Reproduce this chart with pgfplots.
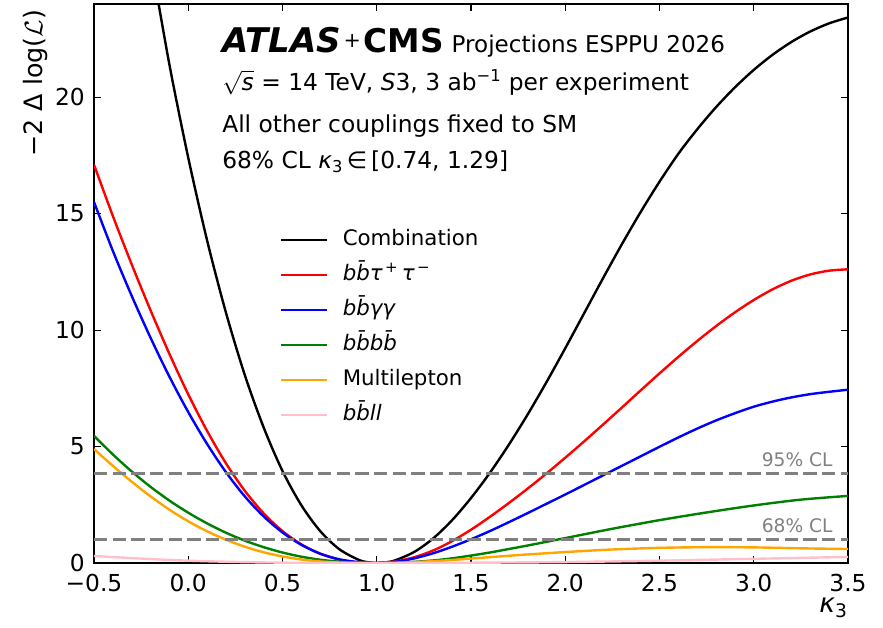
\RequirePackage{fix-cm}
\documentclass[border=0pt]{standalone}
\usepackage{fontspec}
\setmainfont{DejaVu Sans}
\usepackage{pgfplots}
\pgfplotsset{compat=1.18}

\newcommand\fs{\fontsize{17.5}{21}\selectfont}
\newcommand\lfs{\fontsize{16}{19.2}\selectfont}
\definecolor{mlorange}{HTML}{FFA500}
\definecolor{mlgreen}{HTML}{008000}
\definecolor{mlpink}{HTML}{FFC0CB}
\definecolor{clgray}{HTML}{808080}

\begin{document}
\begin{tikzpicture}
\begin{axis}[
  width=565.5pt, height=419.25pt, scale only axis,
  xmin=-0.5, xmax=3.5, ymin=0, ymax=24,
  xtick={-0.5,0,0.5,1,1.5,2,2.5,3,3.5},
  xticklabels={−0.5,0.0,0.5,1.0,1.5,2.0,2.5,3.0,3.5},
  ytick={0,5,10,15,20},
  yticklabels={0,5,10,15,20},
  tick align=inside,
  major tick length=5pt,
  every tick/.style={black, line width=0.8pt},
  axis line style={line width=0.9pt},
  xticklabel style={font=\fs, inner sep=0pt, yshift=-8.5pt},
  yticklabel style={font=\fs, inner sep=0pt, xshift=-6.75pt},
  xlabel={{\itshape κ}\textsubscript{3}},
  xlabel style={at={(rel axis cs:1,-0.062)}, anchor=north east, font=\fontsize{20}{24}\selectfont, inner sep=0pt},
  ylabel={−2 Δ log($\mathcal{L}$)},
  ylabel style={at={(rel axis cs:-0.061,0.99)}, anchor=south east, font=\fontsize{19}{23}\selectfont, inner sep=0pt},
  legend style={draw=none, fill=none, at={(rel axis cs:0.2467,0.597)}, anchor=north west,
    inner sep=0pt, outer sep=0pt, row sep=10.3pt, font=\lfs,
    nodes={inner sep=0pt, text height=12pt, text depth=4pt}},
  legend cell align=left,
  legend image code/.code={\draw[#1, line width=1.8pt] (0pt,0pt) -- (34pt,0pt);},
  /tikz/every odd column/.append style={column sep=11.25pt},
]
% Combination
\addplot[black, line width=1.8pt, smooth] coordinates {
 (-0.2,26.0) (-0.1,21.4) (0.0,17.4) (0.1,13.85) (0.2,10.75) (0.3,8.07) (0.4,5.82)
 (0.5,3.95) (0.6,2.48) (0.7,1.37) (0.8,0.6) (0.9,0.15) (0.95,0.035) (1.0,0.0)
 (1.05,0.03) (1.1,0.12) (1.2,0.48) (1.3,1.06) (1.4,1.84) (1.5,2.79) (1.6,3.87)
 (1.7,5.07) (1.8,6.37) (1.9,7.76) (2.0,9.22) (2.1,10.72) (2.2,12.22) (2.3,13.68)
 (2.4,15.07) (2.5,16.37) (2.6,17.57) (2.7,18.62) (2.8,19.57) (2.9,20.42)
 (3.0,21.17) (3.1,21.82) (3.2,22.37) (3.3,22.82) (3.4,23.17) (3.5,23.42)
};
\addlegendentry{Combination}
% bbtautau
\addplot[red, line width=1.8pt, smooth] coordinates {
 (-0.5,17.1) (-0.4,14.9) (-0.3,12.82) (-0.2,10.85) (-0.1,8.98) (0.0,7.24)
 (0.1,5.67) (0.2,4.28) (0.3,3.10) (0.4,2.13) (0.5,1.37) (0.6,0.80) (0.7,0.40)
 (0.8,0.15) (0.9,0.03) (1.0,0.0) (1.1,0.07) (1.2,0.25) (1.3,0.54) (1.4,0.94)
 (1.5,1.43) (1.6,1.98) (1.7,2.57) (1.8,3.19) (1.9,3.84) (2.0,4.52) (2.1,5.22)
 (2.2,5.94) (2.3,6.67) (2.4,7.41) (2.5,8.14) (2.6,8.85) (2.7,9.53) (2.8,10.17)
 (2.9,10.76) (3.0,11.29) (3.1,11.75) (3.2,12.12) (3.3,12.39) (3.4,12.55) (3.5,12.61)
};
\addlegendentry{{\itshape b\=bτ\textsuperscript{\,+}\,τ\textsuperscript{\,−}}}
% bbgammagamma
\addplot[blue, line width=1.8pt, smooth] coordinates {
 (-0.5,15.5) (-0.4,13.4) (-0.3,11.47) (-0.2,9.67) (-0.1,8.0) (0.0,6.48)
 (0.1,5.11) (0.2,3.90) (0.3,2.86) (0.4,2.0) (0.5,1.31) (0.6,0.78) (0.7,0.40)
 (0.8,0.16) (0.9,0.04) (1.0,0.0) (1.1,0.05) (1.2,0.2) (1.3,0.42) (1.4,0.70)
 (1.5,1.02) (1.6,1.37) (1.7,1.75) (1.8,2.14) (1.9,2.54) (2.0,2.94) (2.1,3.35)
 (2.2,3.76) (2.3,4.17) (2.4,4.58) (2.5,4.99) (2.6,5.39) (2.7,5.77) (2.8,6.12)
 (2.9,6.43) (3.0,6.71) (3.1,6.93) (3.2,7.11) (3.3,7.25) (3.4,7.35) (3.5,7.44)
};
\addlegendentry{{\itshape b\=bγγ}}
% bbbb
\addplot[mlgreen, line width=1.8pt, smooth] coordinates {
 (-0.5,5.46) (-0.4,4.66) (-0.3,3.93) (-0.2,3.27) (-0.1,2.68) (0.0,2.16)
 (0.1,1.70) (0.2,1.30) (0.3,0.96) (0.4,0.68) (0.5,0.45) (0.6,0.27) (0.7,0.14)
 (0.8,0.057) (0.9,0.012) (1.0,0.0) (1.1,0.012) (1.2,0.05) (1.3,0.11) (1.4,0.2)
 (1.5,0.32) (1.6,0.45) (1.7,0.6) (1.8,0.75) (1.9,0.91) (2.0,1.07) (2.25,1.47)
 (2.5,1.84) (2.75,2.17) (3.0,2.47) (3.25,2.72) (3.5,2.88)
};
\addlegendentry{{\itshape b\=bb\=b}}
% Multilepton
\addplot[mlorange, line width=1.8pt, smooth] coordinates {
 (-0.5,4.89) (-0.4,4.17) (-0.3,3.49) (-0.2,2.86) (-0.1,2.29) (0.0,1.79)
 (0.1,1.36) (0.2,1.0) (0.3,0.70) (0.4,0.46) (0.5,0.28) (0.6,0.15) (0.7,0.067)
 (0.8,0.022) (0.9,0.004) (1.0,0.0) (1.1,0.01) (1.2,0.04) (1.3,0.08) (1.4,0.13)
 (1.5,0.19) (1.75,0.34) (2.0,0.47) (2.25,0.58) (2.5,0.65) (2.75,0.68) (3.0,0.67)
 (3.25,0.63) (3.5,0.6)
};
\addlegendentry{Multilepton}
% bbll
\addplot[mlpink, line width=1.8pt, smooth] coordinates {
 (-0.5,0.3) (-0.25,0.19) (0.0,0.1) (0.25,0.045) (0.5,0.015) (0.75,0.003)
 (1.0,0.0) (1.25,0.003) (1.5,0.012) (2.0,0.04) (2.5,0.1) (3.0,0.18) (3.5,0.26)
};
\addlegendentry{{\itshape b\=bll}}
% CL lines
\addplot[clgray, line width=1.9pt, dash pattern=on 10pt off 4pt, forget plot] coordinates {(-0.5,3.84) (3.5,3.84)};
\addplot[clgray, line width=1.9pt, dash pattern=on 10pt off 4pt, forget plot] coordinates {(-0.5,1.0) (3.5,1.0)};
\node[anchor=base east, text=clgray, font=\fontsize{14}{16}\selectfont, inner sep=0pt] at (axis cs:3.42,4.14) {95\% CL};
\node[anchor=base east, text=clgray, font=\fontsize{14}{16}\selectfont, inner sep=0pt] at (axis cs:3.42,1.3) {68\% CL};
% text block
\node[anchor=base west, inner sep=0pt] at (rel axis cs:0.1698,0.914)
 {{\fontsize{25.5}{30}\selectfont\bfseries\itshape ATLAS}\hspace{2pt}\raisebox{3.6pt}{\fontsize{15.5}{18}\selectfont +}\hspace{2pt}{\fontsize{24.5}{28}\selectfont\bfseries CMS}\hspace{6pt}{\fontsize{17.3}{20}\selectfont Projections ESPPU 2026}};
\node[anchor=base west, inner sep=0pt, font=\fs] at (rel axis cs:0.1698,0.846)
 {$\sqrt{\mbox{\itshape s}}$ = 14 TeV, \textit{S}3, 3 ab\textsuperscript{−1} per experiment};
\node[anchor=base west, inner sep=0pt, font=\fs] at (rel axis cs:0.1698,0.771)
 {All other couplings fixed to SM};
\node[anchor=base west, inner sep=0pt, font=\fs] at (rel axis cs:0.1698,0.706)
 {68\% CL {\itshape κ}\textsubscript{3}\,∈\,[0.74, 1.29]};
\end{axis}
\path ([xshift=-70.5pt,yshift=-48pt]current axis.south west) rectangle ([xshift=26.25pt,yshift=3pt]current axis.north east);
\end{tikzpicture}
\end{document}
